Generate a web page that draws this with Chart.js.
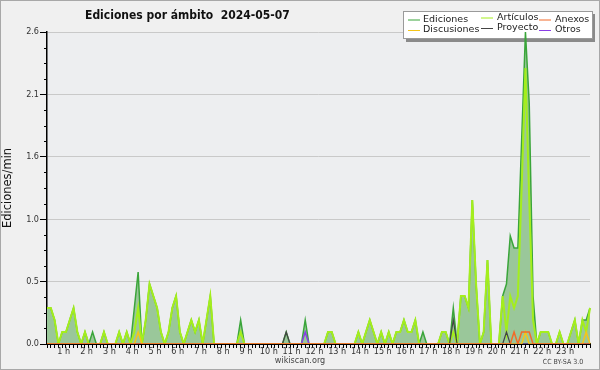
<!DOCTYPE html>
<html>
<head>
<meta charset="utf-8">
<script src="https://cdn.jsdelivr.net/npm/chart.js@4"></script>
<style>
  html, body { margin: 0; padding: 0; background: #f0f0f0; }
  canvas { display: block; }
</style>
</head>
<body>
<canvas id="chart" width="600" height="370"></canvas>
<script>
const TITLE = 'Ediciones por ámbito  2024-05-07';
const Y_TITLE = 'Ediciones/min';
const HOUR_LABELS = ['1 h', '2 h', '3 h', '4 h', '5 h', '6 h', '7 h', '8 h', '9 h', '10 h', '11 h', '12 h',
  '13 h', '14 h', '15 h', '16 h', '17 h', '18 h', '19 h', '20 h', '21 h', '22 h', '23 h'];
const Y_TICKS = [0, 0.52, 1.04, 1.56, 2.08, 2.6];

// one slot every 10 minutes
const SLOTS = [];
for (let h = 0; h < 24; h++) {
  for (let m = 0; m < 60; m += 10) SLOTS.push(String(h).padStart(2, '0') + ':' + String(m).padStart(2, '0'));
}

// values per slot, one line = 2 hours
const ediciones = [
  0.3, 0.3, 0.2, 0, 0.1, 0.1, 0.2, 0.3, 0.1, 0, 0.1, 0,
  0.1, 0, 0, 0.1, 0, 0, 0, 0.1, 0, 0.1, 0, 0.3,
  0.6, 0, 0.2, 0.5, 0.4, 0.3, 0.1, 0, 0.1, 0.3, 0.4, 0.1,
  0, 0.1, 0.2, 0.1, 0.2, 0, 0.2, 0.4, 0, 0, 0, 0,
  0, 0, 0, 0.2, 0, 0, 0, 0, 0, 0, 0, 0,
  0, 0, 0, 0.1, 0, 0, 0, 0, 0.2, 0, 0, 0,
  0, 0, 0.1, 0.1, 0, 0, 0, 0, 0, 0, 0.1, 0,
  0.1, 0.2, 0.1, 0, 0.1, 0, 0.1, 0, 0.1, 0.1, 0.2, 0.1,
  0.1, 0.2, 0, 0.1, 0, 0, 0, 0, 0.1, 0.1, 0, 0.3,
  0, 0.4, 0.4, 0.3, 1.2, 0.5, 0, 0.1, 0.7, 0, 0, 0,
  0.4, 0.5, 0.9, 0.8, 0.8, 1.7, 2.6, 2.0, 0.4, 0, 0.1, 0.1,
  0.1, 0, 0, 0.1, 0, 0, 0.1, 0.2, 0, 0.2, 0.2, 0.3
];
const articulos = [
  0.3, 0.3, 0.2, 0, 0.1, 0.1, 0.2, 0.3, 0.1, 0, 0.1, 0,
  0, 0, 0, 0.1, 0, 0, 0, 0.1, 0, 0.1, 0, 0.1,
  0.3, 0, 0.2, 0.5, 0.4, 0.3, 0.1, 0, 0.1, 0.3, 0.4, 0.1,
  0, 0.1, 0.2, 0.1, 0.2, 0, 0.2, 0.4, 0, 0, 0, 0,
  0, 0, 0, 0.1, 0, 0, 0, 0, 0, 0, 0, 0,
  0, 0, 0, 0, 0, 0, 0, 0, 0, 0, 0, 0,
  0, 0, 0.1, 0.1, 0, 0, 0, 0, 0, 0, 0.1, 0,
  0.1, 0.2, 0.1, 0, 0.1, 0, 0.1, 0, 0.1, 0.1, 0.2, 0.1,
  0.1, 0.2, 0, 0, 0, 0, 0, 0, 0.1, 0.1, 0, 0.1,
  0, 0.4, 0.4, 0.3, 1.2, 0.5, 0, 0.1, 0.7, 0, 0, 0,
  0.4, 0.1, 0.4, 0.3, 0.4, 1.3, 2.3, 1.2, 0.2, 0, 0.1, 0.1,
  0.1, 0, 0, 0.1, 0, 0, 0.1, 0.2, 0, 0.2, 0.1, 0.3
];
const anexos = [
  0, 0, 0, 0, 0, 0, 0, 0, 0, 0, 0, 0, 0, 0, 0, 0, 0, 0, 0, 0, 0, 0, 0, 0,
  0, 0, 0, 0, 0, 0, 0, 0, 0, 0, 0, 0, 0, 0, 0, 0, 0, 0, 0, 0, 0, 0, 0, 0,
  0, 0, 0, 0, 0, 0, 0, 0, 0, 0, 0, 0, 0, 0, 0, 0, 0, 0, 0, 0, 0, 0, 0, 0,
  0, 0, 0, 0, 0, 0, 0, 0, 0, 0, 0, 0, 0, 0, 0, 0, 0, 0, 0, 0, 0, 0, 0, 0,
  0, 0, 0, 0, 0, 0, 0, 0, 0, 0, 0, 0, 0, 0, 0, 0, 0, 0, 0, 0, 0, 0, 0, 0,
  0, 0, 0, 0.1, 0, 0.1, 0.1, 0.1, 0, 0, 0, 0, 0, 0, 0, 0, 0, 0, 0, 0, 0, 0, 0, 0
];
const discusiones = [
  0, 0, 0, 0, 0, 0, 0, 0, 0, 0, 0, 0, 0, 0, 0, 0, 0, 0, 0, 0, 0, 0, 0, 0,
  0.1, 0, 0, 0, 0, 0, 0, 0, 0, 0, 0, 0, 0, 0, 0, 0, 0, 0, 0, 0, 0, 0, 0, 0,
  0, 0, 0, 0, 0, 0, 0, 0, 0, 0, 0, 0, 0, 0, 0, 0, 0, 0, 0, 0, 0, 0, 0, 0,
  0, 0, 0, 0, 0, 0, 0, 0, 0, 0, 0, 0, 0, 0, 0, 0, 0, 0, 0, 0, 0, 0, 0, 0,
  0, 0, 0, 0, 0, 0, 0, 0, 0, 0, 0, 0, 0, 0, 0, 0, 0, 0, 0, 0, 0, 0, 0, 0,
  0, 0, 0, 0, 0, 0, 0.1, 0, 0, 0, 0, 0, 0, 0, 0, 0, 0, 0, 0, 0, 0, 0, 0.1, 0
];
const proyecto = [
  0, 0, 0, 0, 0, 0, 0, 0, 0, 0, 0, 0, 0, 0, 0, 0, 0, 0, 0, 0, 0, 0, 0, 0,
  0, 0, 0, 0, 0, 0, 0, 0, 0, 0, 0, 0, 0, 0, 0, 0, 0, 0, 0, 0, 0, 0, 0, 0,
  0, 0, 0, 0, 0, 0, 0, 0, 0, 0, 0, 0, 0, 0, 0, 0.1, 0, 0, 0, 0, 0, 0, 0, 0,
  0, 0, 0, 0, 0, 0, 0, 0, 0, 0, 0, 0, 0, 0, 0, 0, 0, 0, 0, 0, 0, 0, 0, 0,
  0, 0, 0, 0, 0, 0, 0, 0, 0, 0, 0, 0.2, 0, 0, 0, 0, 0, 0, 0, 0, 0, 0, 0, 0,
  0, 0.1, 0, 0, 0, 0, 0, 0, 0, 0, 0, 0, 0, 0, 0, 0, 0, 0, 0, 0, 0, 0, 0, 0
];
const otros = [
  0, 0, 0, 0, 0, 0, 0, 0, 0, 0, 0, 0, 0, 0, 0, 0, 0, 0, 0, 0, 0, 0, 0, 0,
  0, 0, 0, 0, 0, 0, 0, 0, 0, 0, 0, 0, 0, 0, 0, 0, 0, 0, 0, 0, 0, 0, 0, 0,
  0, 0, 0, 0, 0, 0, 0, 0, 0, 0, 0, 0, 0, 0, 0, 0, 0, 0, 0, 0, 0.1, 0, 0, 0,
  0, 0, 0, 0, 0, 0, 0, 0, 0, 0, 0, 0, 0, 0, 0, 0, 0, 0, 0, 0, 0, 0, 0, 0,
  0, 0, 0, 0, 0, 0, 0, 0, 0, 0, 0, 0, 0, 0, 0, 0, 0, 0, 0, 0, 0, 0, 0, 0,
  0, 0, 0, 0, 0, 0, 0, 0, 0, 0, 0, 0, 0, 0, 0, 0, 0, 0, 0, 0, 0, 0, 0, 0
];

const FONT = 'DejaVu Sans Condensed, DejaVu Sans, sans-serif';
const FONT_REG = 'DejaVu Sans, sans-serif';

// background, legend box, titles, minor ticks
const decor = {
  id: 'decor',
  beforeDraw(chart) {
    const { ctx, chartArea: a } = chart;
    ctx.save();
    ctx.fillStyle = '#f0f0f0';
    ctx.fillRect(0, 0, chart.width, chart.height);
    ctx.strokeStyle = '#a8a8a8';
    ctx.lineWidth = 1;
    ctx.strokeRect(0.5, 0.5, chart.width - 1, chart.height - 1);
    ctx.fillStyle = '#edeef0';
    ctx.fillRect(a.left, a.top, a.right - a.left, a.bottom - a.top);
    ctx.restore();
  },
  beforeDatasetsDraw(chart) {
    const ctx = chart.ctx;
    ctx.save();
    ctx.fillStyle = '#8a8a8a';
    ctx.fillRect(406, 14, 189, 28);
    ctx.fillStyle = '#ffffff';
    ctx.fillRect(404, 12, 189, 27);
    ctx.strokeStyle = '#9a9a9a';
    ctx.strokeRect(403.5, 11.5, 189, 27);
    ctx.font = '9.5px ' + FONT_REG;
    ctx.textBaseline = 'middle';
    const lineX = [408, 481, 539];
    const textX = [423, 497, 555];
    chart.data.datasets.forEach((ds, i) => {
      const col = i % 3, row = Math.floor(i / 3);
      const y = 19.5 + row * 10.5 - (col === 1 ? 2 : 0);
      ctx.strokeStyle = ds.borderColor;
      ctx.lineWidth = 1;
      ctx.beginPath();
      ctx.moveTo(lineX[col], y + 0.5);
      ctx.lineTo(lineX[col] + 12, y + 0.5);
      ctx.stroke();
      ctx.fillStyle = '#222';
      ctx.fillText(ds.label, textX[col], y);
    });
    ctx.restore();
  },
  afterDraw(chart) {
    const ctx = chart.ctx;
    const ys = chart.scales.y;
    ctx.save();
    // minor ticks on the value axis
    ctx.strokeStyle = '#000';
    ctx.lineWidth = 1;
    for (let i = 0; i < Y_TICKS.length - 1; i++) {
      const step = (Y_TICKS[i + 1] - Y_TICKS[i]) / 4;
      for (let k = 1; k < 4; k++) {
        const py = Math.round(ys.getPixelForValue(Y_TICKS[i] + k * step)) + 0.5;
        ctx.beginPath();
        ctx.moveTo(ys.right - 3, py);
        ctx.lineTo(ys.right, py);
        ctx.stroke();
      }
    }
    ctx.fillStyle = '#111';
    ctx.font = 'bold 12px ' + FONT;
    ctx.textBaseline = 'middle';
    ctx.fillText(TITLE, 85, 15.5);
    ctx.fillStyle = '#444';
    ctx.font = '9px ' + FONT;
    ctx.textAlign = 'center';
    ctx.fillText('wikiscan.org', 300, 361);
    ctx.font = '7px ' + FONT;
    ctx.fillText('CC BY-SA 3.0', 563, 362);
    ctx.restore();
  }
};

new Chart(document.getElementById('chart'), {
  type: 'line',
  data: {
    labels: SLOTS,
    datasets: [
      { label: 'Ediciones', data: ediciones, borderColor: '#3aa53a', backgroundColor: '#9ac79a',
        fill: 'origin', borderWidth: 1.5, order: 3 },
      { label: 'Artículos', data: articulos, borderColor: '#a4ee1c', borderWidth: 2, fill: false, order: 2 },
      { label: 'Anexos', data: anexos, borderColor: '#f26b2a', borderWidth: 1.5, fill: false, order: 1 },
      { label: 'Discusiones', data: discusiones, borderColor: '#f5c518', borderWidth: 1.5, fill: false, order: 1 },
      { label: 'Proyecto', data: proyecto, borderColor: '#444444', borderWidth: 1.2, fill: false, order: 1 },
      { label: 'Otros', data: otros, borderColor: '#8a3ee6', borderWidth: 1.5, fill: false, order: 1 }
    ]
  },
  options: {
    responsive: false,
    animation: false,
    devicePixelRatio: 1,
    elements: { point: { radius: 0 }, line: { tension: 0 } },
    layout: { padding: { left: 0, right: 10, top: 32, bottom: 0 } },
    plugins: {
      legend: { display: false },
      title: { display: false },
      tooltip: { enabled: false }
    },
    scales: {
      x: {
        z: 1,
        afterFit: (s) => { s.height = 26; },
        border: { color: '#000', width: 2 },
        grid: { drawOnChartArea: false, tickLength: 4, tickColor: '#000' },
        ticks: {
          autoSkip: false, maxRotation: 0, minRotation: 0, padding: -2, labelOffset: -6,
          color: '#333', font: { family: FONT, size: 9 },
          callback: (v, i) => (i > 0 && i % 6 === 0 ? HOUR_LABELS[i / 6 - 1] : '')
        }
      },
      y: {
        min: 0,
        max: 2.6,
        afterFit: (s) => { s.width = 47; },
        afterBuildTicks: (s) => { s.ticks = Y_TICKS.map(v => ({ value: v })); },
        border: { color: '#000', width: 1.5 },
        grid: {
          color: (c) => (c.tick && c.tick.value === 0 ? 'rgba(0,0,0,0)' : '#c9c9c9'),
          tickColor: '#000',
          tickLength: 7
        },
        ticks: {
          padding: 1, color: '#333', font: { family: FONT, size: 9 },
          callback: (v) => Number(v).toFixed(1)
        },
        title: {
          display: true, text: Y_TITLE, color: '#111',
          font: { family: FONT_REG, size: 11.5 }, padding: { top: 1, bottom: 0 }
        }
      }
    }
  },
  plugins: [decor]
});
</script>
</body>
</html>
